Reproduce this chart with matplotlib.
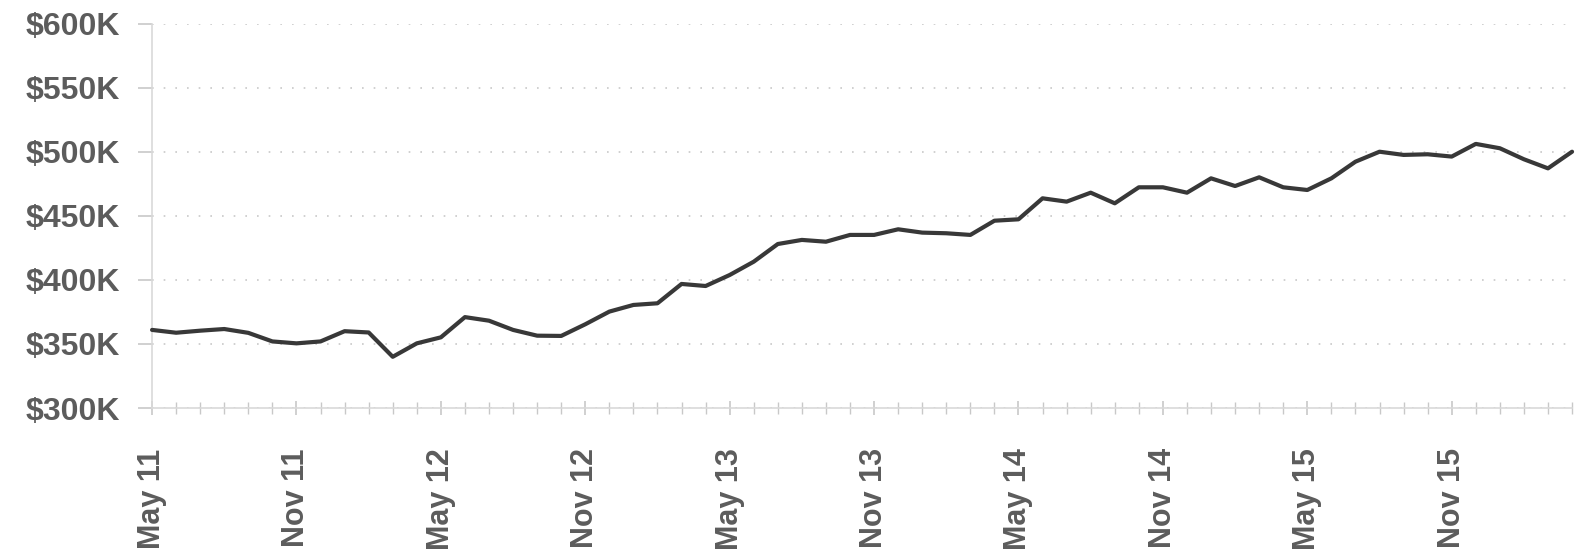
import matplotlib.pyplot as plt
from matplotlib.ticker import FuncFormatter, MultipleLocator

plt.rcParams['font.family'] = ['Liberation Sans', 'DejaVu Sans']

# monthly values, May 2011 .. Apr 2016, in $K
months = list(range(60))
values = [361, 358.8, 360.4, 361.7, 358.7, 352, 350.5, 352, 360, 359,
          340, 350.5, 355.2, 371, 368.2, 361, 356.5, 356.3, 365.4, 375.3,
          380.5, 381.8, 396.9, 395.3, 403.9, 414.3, 428.1, 431.3, 429.9, 435.2,
          435.2, 439.6, 437, 436.5, 435.2, 446.3, 447.4, 463.8, 461.2, 468.2,
          459.9, 472.4, 472.4, 468.2, 479.4, 473.4, 480.2, 472.4, 470.3, 479.4,
          492.4, 500.2, 497.7, 498.2, 496.4, 506.3, 502.9, 494.3, 487.2, 500.2]
tick_pos = [0, 6, 12, 18, 24, 30, 36, 42, 48, 54]
tick_labels = ['May 11', 'Nov 11', 'May 12', 'Nov 12', 'May 13',
               'Nov 13', 'May 14', 'Nov 14', 'May 15', 'Nov 15']

fig = plt.figure(figsize=(15.79, 5.57), dpi=100)
ax = fig.add_axes([0.0963, 0.2675, 0.8993, 0.6895])

ax.plot(months, values, color='#383838', linewidth=3.0, solid_joinstyle='round',
        solid_capstyle='round', clip_on=False, zorder=3)

ax.set_xlim(0, 59)
ax.set_ylim(300, 600)
ax.yaxis.set_major_locator(MultipleLocator(50))
ax.yaxis.set_major_formatter(FuncFormatter(lambda v, p: '$%dK' % v))
ax.set_xticks(tick_pos)
ax.set_xticklabels(tick_labels, rotation=90, fontweight='bold')
for lab in ax.get_yticklabels():
    lab.set_fontweight('bold')
ax.xaxis.set_minor_locator(MultipleLocator(1))

ax.grid(axis='y', linestyle=(0, (1, 6)), color='#c8c8c8', linewidth=1.2)

for side in ['top', 'right']:
    ax.spines[side].set_visible(False)
for side in ['left', 'bottom']:
    ax.spines[side].set_color('#d9d9d9')
    ax.spines[side].set_linewidth(1.2)

ax.tick_params(axis='y', direction='out', length=10, width=1.2, color='#c8c8c8',
               labelsize=23, labelcolor='#5c5c5c', pad=13)
ax.tick_params(axis='x', which='major', direction='inout', length=10, width=1.2,
               color='#c8c8c8', labelsize=22, labelcolor='#5c5c5c', pad=24)
ax.tick_params(axis='x', which='minor', direction='inout', length=8, width=1.0,
               color='#c8c8c8')

fig.savefig('out.png', dpi=100)
